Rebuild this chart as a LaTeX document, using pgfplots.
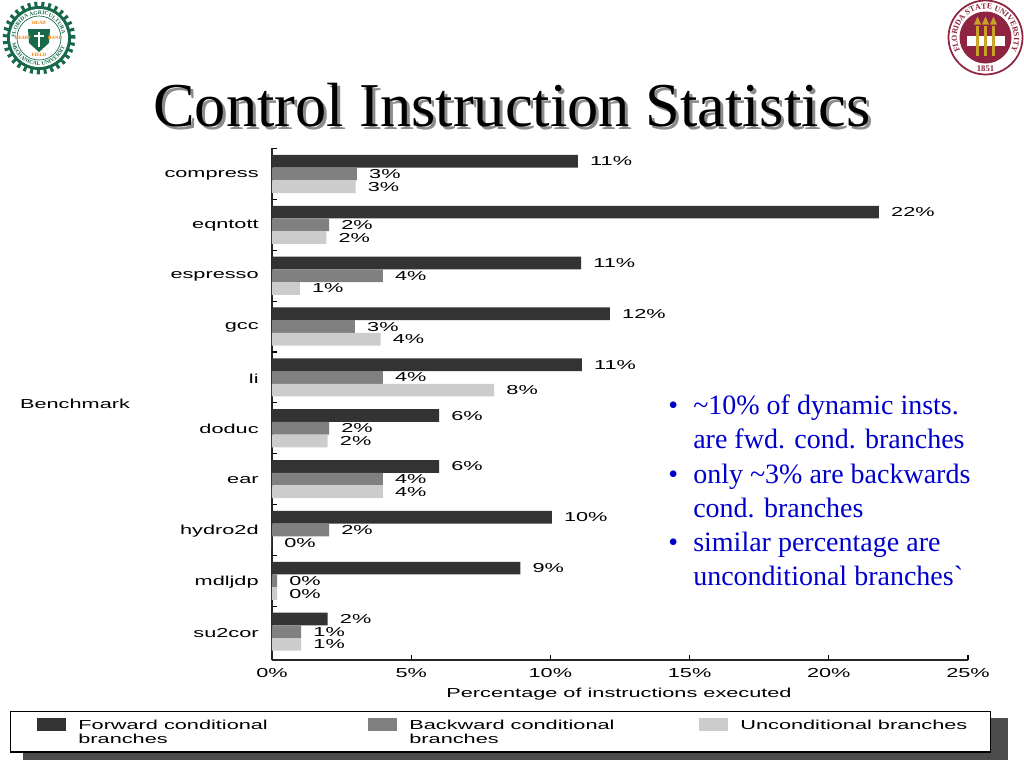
\documentclass[border=0pt]{standalone}
\usepackage{pgfplots}
\pgfplotsset{compat=1.18}
\usepackage{pgfplotstable}
\usepackage{fontspec}
\usetikzlibrary{decorations.text}
\setmainfont{Liberation Serif}
\newfontfamily\plainserif[Ligatures=ResetAll]{Liberation Serif}
\newfontfamily\chartfont[FakeStretch=1.67]{Liberation Sans}
\definecolor{darkbar}{HTML}{333333}
\definecolor{midbar}{HTML}{808080}
\definecolor{lightbar}{HTML}{CCCCCC}
\definecolor{slideblue}{HTML}{0000CC}
\definecolor{famugreen}{HTML}{17694A}
\definecolor{fsured}{HTML}{8E2440}
\definecolor{fsugold}{HTML}{C9A227}
\pgfplotstableread{
pos forward backward uncond
9   10.99   3.05   3.0
8   21.8    2.05   1.95
7   11.1    3.98   1.0
6   12.14   2.98   3.9
5   11.13   3.98   7.98
4   6.0     2.05   2.0
3   6.0     3.98   3.98
2   10.05   2.05   0.0
1   8.92    0.18   0.18
0   2.0     1.05   1.05
}\datatable
\begin{document}
\begin{tikzpicture}[x=0.75pt,y=-0.75pt]
\path[use as bounding box] (0,0) rectangle (1024,768);
% legend shadow
\fill[black!70] (23,718) rectangle (1008,760);
% title
\node[anchor=base west,inner sep=0pt,text=black!45,font=\fontsize{46.8pt}{50pt}\selectfont] at (156,129) {Control Instruction Statistics};
\node[anchor=base west,inner sep=0pt,font=\fontsize{46.8pt}{50pt}\selectfont] at (153,126) {Control Instruction Statistics};
% FAMU seal
\begin{scope}[shift={(39,38)},x=0.75pt,y=0.75pt]
\fill[famugreen] (0,0) circle (32);
\draw[famugreen,line width=5pt,dash pattern=on 2.2pt off 2.8pt] (0,0) circle (33);
\fill[white] (0,0) circle (29);
\draw[famugreen,line width=0.5pt] (0,0) circle (22);
\path[decorate,decoration={text along path,text align=center,text={|\fontsize{4.2pt}{5pt}\selectfont\bfseries\color{famugreen}|FLORIDA AGRICULTURAL}}] (170:23.5) arc (170:10:23.5);
\path[decorate,decoration={text along path,text align=center,text={|\fontsize{4.2pt}{5pt}\selectfont\bfseries\color{famugreen}|MECHANICAL UNIVERSITY}}] (195:27.5) arc (195:345:27.5);
\fill[famugreen] (-11,9) -- (11,9) -- (10,-5) -- (0,-14) -- (-10,-5) -- cycle;
\fill[white] (-1.2,6) rectangle (1.2,-9);
\fill[white] (-5,3) rectangle (5,0.8);
\node[text=orange,font=\fontsize{3.6pt}{4pt}\selectfont\bfseries,inner sep=0pt] at (0,15.5) {HEAD};
\node[text=orange,font=\fontsize{3.6pt}{4pt}\selectfont\bfseries,inner sep=0pt] at (0,-17) {FIELD};
\node[text=orange,font=\fontsize{3.6pt}{4pt}\selectfont\bfseries,inner sep=0pt] at (-16,0) {HEART};
\node[text=orange,font=\fontsize{3.6pt}{4pt}\selectfont\bfseries,inner sep=0pt] at (16,0) {HAND};
\end{scope}
% FSU seal
\begin{scope}[shift={(985.5,37.5)},x=0.75pt,y=0.75pt]
\draw[fsured,fill=white,line width=1.3pt] (0,0) circle (37);
\fill[fsured] (0,0) circle (26);
\path[decorate,decoration={text along path,text align=center,text={|\fontsize{6pt}{7pt}\selectfont\bfseries\color{fsured}|FLORIDA STATE UNIVERSITY}}] (225:28.5) arc (225:-45:28.5);
\node[text=fsured,font=\fontsize{6.5pt}{8pt}\selectfont\bfseries,inner sep=0pt] at (0,-31) {1851};
\fill[white] (-19,-8) rectangle (19,2);
\foreach \tx in {-8,0,8}{
  \fill[fsugold] (\tx-1.5,-18) rectangle (\tx+1.5,12);
  \fill[fsugold] (\tx,21) -- (\tx+3.5,13) -- (\tx-3.5,13) -- cycle;
}
\end{scope}
\begin{axis}[
  at={(204pt,-495pt)},anchor=south west,
  scale only axis,width=522pt,height=384pt,
  xmin=0,xmax=25,ymin=-0.557,ymax=9.511,
  axis x line*=bottom,axis y line*=left,
  axis line style={black!85,line width=1.1pt,-},
  tick align=inside,
  tick style={black,line width=0.9pt},
  major tick length=4pt,minor tick length=4pt,
  xtick={0,5,10,15,20,25},
  xticklabel={\pgfmathprintnumber{\tick}\%},
  ytick={0,1,2,3,4,5,6,7,8,9},
  yticklabels={su2cor,mdljdp,hydro2d,ear,doduc,li,gcc,espresso,eqntott,compress},
  minor ytick={0.5,1.5,2.5,3.5,4.5,5.5,6.5,7.5,8.5,9.5},
  every major y tick/.append style={draw=none},
  /pgf/number format/assume math mode=true,
  font=\chartfont\fontsize{9.75pt}{11pt}\selectfont,
  tick label style={font=\chartfont\fontsize{9.75pt}{11pt}\selectfont},
  x tick label style={yshift=-2.5pt},
  y tick label style={xshift=-6.5pt,yshift=-0.75pt},
  xlabel={Percentage of instructions executed},
  xlabel style={at={(0.4986,-0.066)},anchor=center},
  ylabel={Benchmark},
  ylabel style={rotate=-90,at={(-0.283,0.5)},anchor=center},
  bar width=9.53pt,
  point meta=x,
  nodes near coords={\pgfmathprintnumber[fixed,precision=0]{\pgfplotspointmeta}\%},
  nodes near coords style={font=\chartfont\fontsize{9.75pt}{11pt}\selectfont,xshift=9pt,inner sep=0pt,anchor=west,black},
  legend style={at={(-0.3764,-0.0996)},anchor=north west,draw=black,line width=1.1pt,fill=white,
    legend columns=3,font=\chartfont\fontsize{9.75pt}{10.5pt}\selectfont,
    inner xsep=19.5pt,inner ysep=4.5pt,
    nodes={text depth=10pt},
    /tikz/every odd column/.append style={column sep=7.5pt},
    /tikz/every even column/.append style={column sep=15pt}},
  legend cell align=left,
  legend image code/.code={\fill[#1] (0pt,0.5pt) rectangle (21.75pt,10.25pt);},
]
\addplot[xbar,bar shift=9.53pt,fill=darkbar,draw=none,nodes near coords style={yshift=9.53pt}] table[x=forward,y=pos] {\datatable};
\addplot[xbar,bar shift=0pt,fill=midbar,draw=none] table[x=backward,y=pos] {\datatable};
\addplot[xbar,bar shift=-9.53pt,fill=lightbar,draw=none,nodes near coords style={yshift=-9.53pt}] table[x=uncond,y=pos] {\datatable};
\addlegendentry{\parbox[t]{200pt}{Forward conditional\\branches}}
\addlegendentry{\parbox[t]{200pt}{Backward conditional\\branches}}
\addlegendentry{\parbox[t]{166pt}{\mbox{Unconditional branches}}}
\end{axis}
% bullets
\begin{scope}[every node/.style={anchor=base west,inner sep=0pt,text=slideblue,font=\fontsize{21pt}{24pt}\selectfont}]
\node at (668,414) {•};
\node at (693,414) {\textasciitilde 10\% of dynamic insts.};
\node at (693,448) {are fwd. cond. branches};
\node at (668,483) {•};
\node at (693,483) {only \textasciitilde 3\% are backwards};
\node at (693,517) {cond. branches};
\node at (668,551) {•};
\node at (693,551) {similar percentage are};
\node at (693,585) {unconditional branches{\plainserif\symbol{96}}};
\end{scope}
\end{tikzpicture}
\end{document}
